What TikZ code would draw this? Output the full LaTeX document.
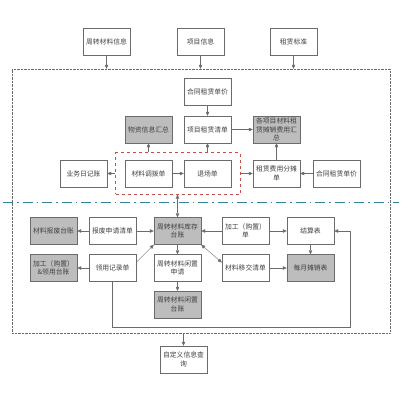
\documentclass[tikz,border=0pt]{standalone}
\usepackage{fontspec}
\setmainfont{Noto Sans CJK SC}
\usetikzlibrary{
  calc,positioning,fit,
  arrows,arrows.meta
}
\definecolor{linegray}{HTML}{6B6B6B}
\definecolor{boxgray}{HTML}{BDBDBD}
\definecolor{dashred}{HTML}{C0504D}
\definecolor{dashblue}{HTML}{31849B}

\begin{document}
\begin{tikzpicture}[x=1pt,y=-1pt,
  font=\fontsize{6.8}{8.5}\selectfont,
  box/.style={draw=linegray,fill=white,minimum width=47pt,minimum height=27pt,
    inner sep=1pt,align=center,text=black!75},
  graybox/.style={box,fill=boxgray},
  arr/.style={draw=linegray,-{Triangle[length=4pt,width=3.5pt]}},
  dblarr/.style={draw=linegray,{Triangle[length=4pt,width=3.5pt]}-{Triangle[length=4pt,width=3.5pt]}}
]
\useasboundingbox (0,0) rectangle (402,402);

\node[draw=linegray,densely dotted,minimum width=378pt,minimum height=264pt] (frame) at (201,201) {};

\node[box] (zhouzhuan) at (106.5,41.5) {周转材料信息};
\node[box] (xiangmu) at (200.5,41.5) {项目信息};
\node[box] (biaozhun) at (293.5,41.5) {租赁标准};

\node[box] (danjia) at (207.5,92) {合同租赁单价};
\node[box] (qingdan) at (207.5,129.5) {项目租赁清单};
\node[graybox] (wuzi) at (148.5,129.5) {物资信息汇总};
\node[graybox] (huizong) at (276.5,129.5) {各项目材料租\\赁摊销费用汇\\总};

\node[box] (rijizhang) at (83.5,173.5) {业务日记账};
\node[box] (diaobo) at (148.5,173.5) {材料调拨单};
\node[box] (tuichang) at (207.5,173.5) {退场单};
\node[box] (fentan) at (276.5,173.5) {租赁费用分摊\\单};
\node[box] (danjiaB) at (336.5,173.5) {合同租赁单价};
\node[draw=dashred,dashed,thick,inner xsep=9pt,inner ysep=7pt,fit=(diaobo)(tuichang)] (redbox) {};

\draw[dashblue,thick,dash pattern=on 10pt off 4pt on 1.5pt off 4pt] (3,202) -- (399,202);

\node[graybox] (baofei) at (53.5,231) {材料报废台账};
\node[box] (shenqing) at (112.5,231) {报废申请清单};
\node[graybox] (kucun) at (177.5,231) {周转材料库存\\台账};
\node[box] (jiagong) at (245.5,231) {加工（购置）\\单};
\node[box] (jiesuan) at (310.5,231) {结算表};

\node[graybox] (lingyongtz) at (53.5,268) {加工（购置）\\\&领用台账};
\node[box] (lingyong) at (112.5,268) {领用记录单};
\node[box] (xianzhi) at (177.5,268) {周转材料闲置\\申请};
\node[box] (yijiao) at (245.5,268) {材料移交清单};
\node[graybox] (tanxiao) at (310.5,268) {每月摊销表};

\node[graybox] (xianzhitz) at (177.5,304.5) {周转材料闲置\\台账};

\node[box] (chaxun) at (183.5,359.5) {自定义信息查\\询};

\draw[arr] (zhouzhuan) -- (zhouzhuan |- frame.north);
\draw[arr] (xiangmu) -- (xiangmu |- frame.north);
\draw[arr] (biaozhun) -- (biaozhun |- frame.north);

\draw[arr] (danjia) -- (qingdan);
\draw[arr] (qingdan) -- (huizong);
\draw[arr] (redbox.north -| wuzi) -- (wuzi);
\draw[arr] (redbox.north -| qingdan) -- (qingdan);
\draw[arr] (diaobo) -- (tuichang);
\draw[arr] (redbox.west |- rijizhang) -- (rijizhang);
\draw[arr] (redbox.east |- fentan) -- (fentan);
\draw[arr] (fentan) -- (huizong);
\draw[arr] (danjiaB) -- (fentan);
\draw[dblarr] (redbox.south -| kucun) -- (kucun);

\draw[arr] (shenqing) -- (baofei);
\draw[arr] (shenqing) -- (kucun);
\draw[arr] (jiagong) -- (kucun);
\draw[arr] (jiagong) -- (jiesuan);
\draw[arr] (jiesuan) -- (tanxiao);
\draw[arr] (lingyong) -- (lingyongtz);
\draw[arr] ($(lingyong.north east)!0.3!(lingyong.south east)$) -- (kucun.south west);
\draw[arr] (kucun) -- (xianzhi);
\draw[arr] (xianzhi) -- (xianzhitz);
\draw[dblarr] (kucun.south east) -- ($(yijiao.north west)!0.3!(yijiao.south west)$);
\draw[arr] (yijiao) -- (tanxiao);
\draw[arr] (lingyong.south) |- (350,327) |- (jiesuan.east);

\draw[arr] (frame.south -| chaxun) -- (chaxun);
\end{tikzpicture}
\end{document}
